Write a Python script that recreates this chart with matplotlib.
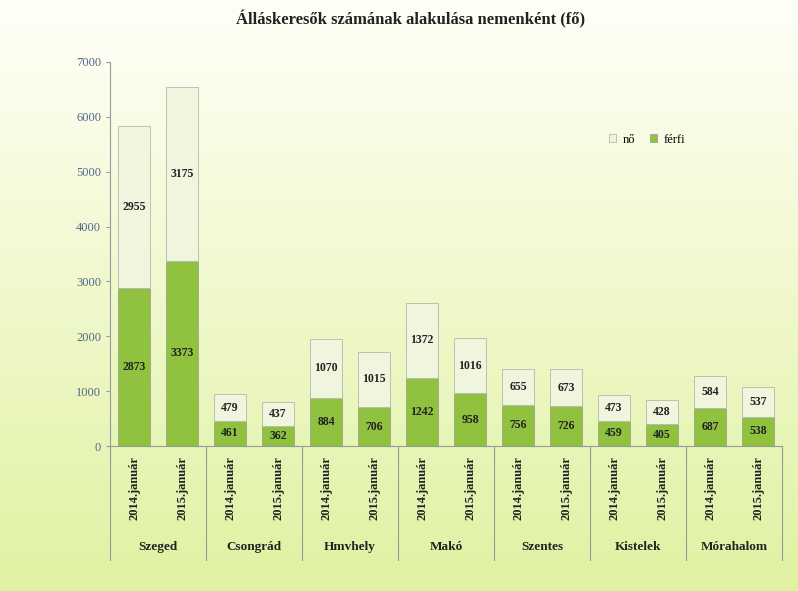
import numpy as np
import matplotlib
matplotlib.use('Agg')
import matplotlib.pyplot as plt
from matplotlib.colors import LinearSegmentedColormap

varosok = ["Szeged", "Csongrád", "Hmvhely", "Makó", "Szentes", "Kistelek", "Mórahalom"]
idoszakok = ["2014.január", "2015.január"]
ferfi = [2873, 3373, 461, 362, 884, 706, 1242, 958, 756, 726, 459, 405, 687, 538]
no = [2955, 3175, 479, 437, 1070, 1015, 1372, 1016, 655, 673, 473, 428, 584, 537]

plt.rcParams['font.family'] = ['Liberation Serif', 'DejaVu Serif']

fig = plt.figure(figsize=(7.98, 5.91), dpi=100)

# background gradient (pale at top, light green at bottom)
bg = fig.add_axes([0, 0, 1, 1], zorder=-10)
cmap = LinearSegmentedColormap.from_list("bg", ["#fffff8", "#f0f8cc", "#e0f2a2"])
bg.imshow(np.linspace(0, 1, 256).reshape(-1, 1), aspect='auto', cmap=cmap,
          extent=[0, 1, 0, 1])
bg.axis('off')

ax = fig.add_axes([0.138, 0.2453, 0.842, 0.65])
ax.patch.set_alpha(0)

x = np.arange(len(ferfi))
w = 0.66
ax.bar(x, ferfi, w, color='#90c240', edgecolor='#9aa58a', linewidth=0.6, label='férfi')
ax.bar(x, no, w, bottom=ferfi, color='#f0f6dd', edgecolor='#b5b8ad', linewidth=0.6, label='nő')

for i in range(len(x)):
    ax.text(x[i], ferfi[i] / 2, str(ferfi[i]), ha='center', va='center',
            fontsize=8.5, fontweight='bold', color='#222222')
    ax.text(x[i], ferfi[i] + no[i] / 2, str(no[i]), ha='center', va='center',
            fontsize=8.5, fontweight='bold', color='#222222')

ax.set_xlim(-0.5, len(x) - 0.5)
ax.set_ylim(0, 7000)
ax.set_yticks(range(0, 7001, 1000))
ax.tick_params(axis='y', labelsize=9, labelcolor='#56688c', color='#999999', length=3)
ax.tick_params(axis='x', length=0, pad=7)
ax.set_xticks(x)
ax.set_xticklabels(idoszakok * len(varosok), rotation=90, fontsize=9,
                   fontweight='bold', color='#222222')
for side in ['top', 'right']:
    ax.spines[side].set_visible(False)
ax.spines['left'].set_color('#999999')
ax.spines['bottom'].set_color('#999999')

# group labels and separators
for g, nev in enumerate(varosok):
    ax.text(2 * g + 0.5, -0.263, nev, transform=ax.get_xaxis_transform(),
            ha='center', va='center', fontsize=9.5, fontweight='bold', color='#222222')
for b in np.arange(-0.5, len(x), 2):
    ax.plot([b, b], [0, -0.297], transform=ax.get_xaxis_transform(),
            color='#999999', linewidth=0.8, clip_on=False)

h, l = ax.get_legend_handles_labels()
ax.legend(h[::-1], l[::-1], loc='center left', bbox_to_anchor=(0.725, 0.797),
          ncol=2, frameon=False, fontsize=9, handlelength=0.6, handleheight=0.6,
          columnspacing=1.2, handletextpad=0.5)

fig.text(0.514, 0.968, "Álláskeresők számának alakulása nemenként (fő)",
         ha='center', va='center', fontsize=12, fontweight='bold', color='#222222')

fig.savefig("out.png", dpi=100)
